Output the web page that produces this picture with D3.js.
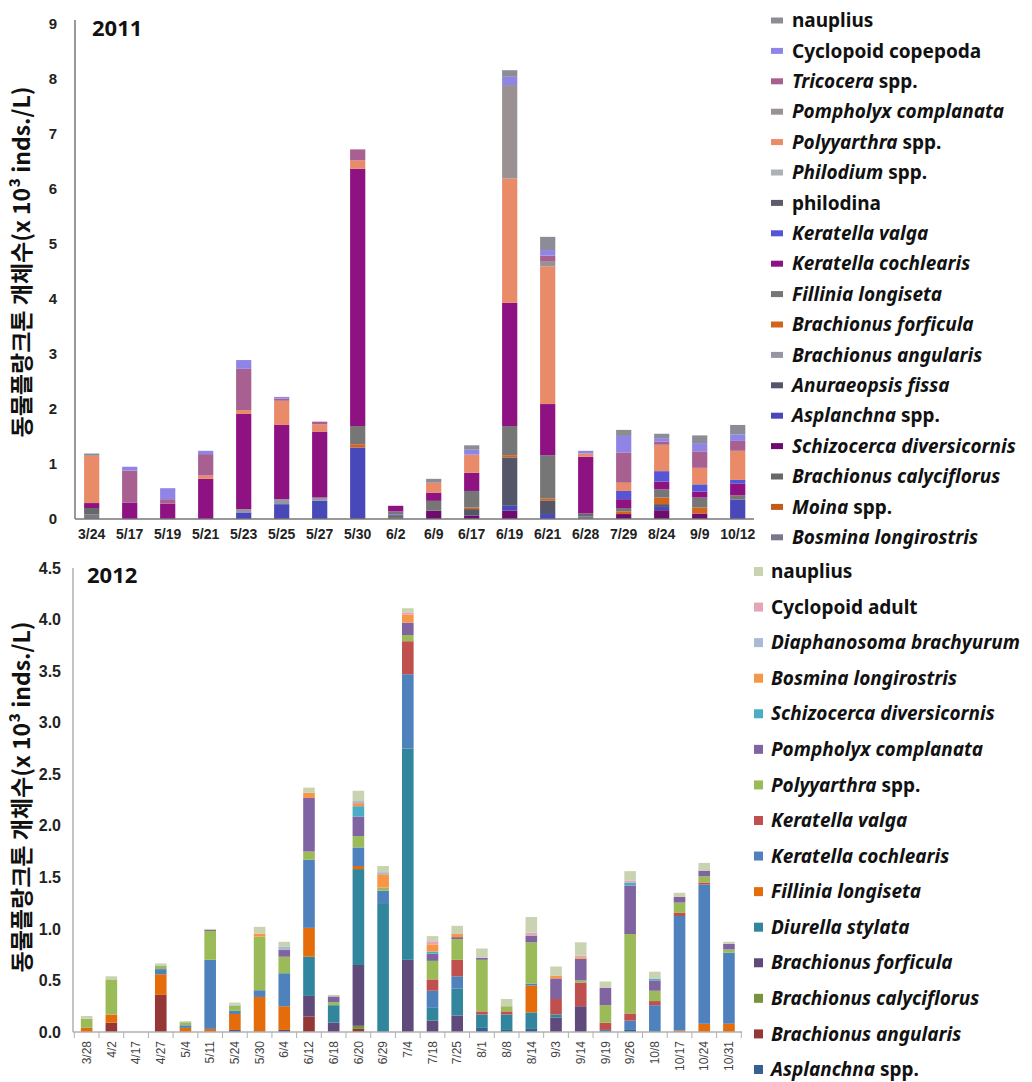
<!DOCTYPE html>
<meta charset="utf-8">
<svg width="1032" height="1082"></svg>
<script src="https://cdn.jsdelivr.net/npm/d3@7"></script>

<style>
body { margin: 0; background: #fff; }
svg { font-family: "Noto Sans", "Open Sans", sans-serif; }
.ytitle { font-family: "Noto Sans CJK KR", "Noto Sans", sans-serif; font-size: 23px; font-weight: bold; fill: #111; }
.year { font-size: 22px; font-weight: bold; fill: #111; }
.legend { font-size: 19px; font-weight: bold; fill: #111; }
</style>

<script>

// ---------- 2011 ----------
var dates2011 = ["3/24","5/17","5/19","5/21","5/23","5/25","5/27","5/30","6/2","6/9","6/17","6/19","6/21","6/28","7/29","8/24","9/9","10/12"];

// legend order (top to bottom); the stack is drawn in reverse
var species2011 = ["nauplius","Cyclopoid copepoda","Tricocera spp.","Pompholyx complanata","Polyyarthra spp.","Philodium spp.","philodina","Keratella valga","Keratella cochlearis","Fillinia longiseta","Brachionus forficula","Brachionus angularis","Anuraeopsis fissa","Asplanchna spp.","Schizocerca diversicornis","Brachionus calyciflorus","Moina spp.","Bosmina longirostris"];
var colors2011 = ["#8c8c96","#8f85e6","#a86090","#9a9292","#e98a68","#aeb0b8","#5c5c6a","#5555d5","#8e1282","#767676","#d2641e","#9696a2","#55556a","#4848b8","#6e0c6e","#686868","#c25a18","#78788a"];

var nauplius11    = [0.04,0,0,0,0,0,0,0,0,0.07,0.08,0.12,0.24,0,0.11,0.08,0.14,0.17];
var cyclopoid11   = [0,0.07,0.2,0.06,0.16,0.03,0,0,0,0,0.09,0.15,0.1,0.05,0.3,0.06,0.15,0.12];
var tricocera11   = [0,0.58,0.08,0.39,0.75,0.04,0.05,0.2,0,0,0,0,0.1,0,0.55,0.06,0.3,0.18];
var pompholyx11   = [0,0,0,0,0,0,0,0,0,0,0,1.7,0.1,0,0,0,0,0];
var polyyarthra11 = [0.86,0,0,0.06,0.07,0.44,0.13,0.15,0,0.18,0.33,2.26,2.5,0.06,0.15,0.48,0.3,0.53];
var philodium11   = [0,0,0,0,0,0,0,0,0,0,0,0,0,0,0,0,0,0];
var philodina11   = [0,0,0,0,0,0,0,0,0,0,0,0,0,0,0,0,0,0];
var kValga11      = [0,0,0,0,0,0,0,0,0,0,0,0,0,0,0.15,0.19,0.13,0.07];
var kCoch11       = [0.09,0.3,0.28,0.73,1.73,1.35,1.2,4.68,0.1,0.15,0.33,2.24,0.93,1.03,0.16,0.14,0.11,0.21];
var fillinia11    = [0,0,0,0,0,0,0,0.33,0.06,0.18,0.3,0.53,0.79,0,0.06,0.15,0.18,0.08];
var bForficula11  = [0,0,0,0,0,0,0,0.06,0,0,0.03,0.04,0.04,0,0.05,0.12,0.11,0];
var bAngularis11  = [0,0,0,0,0.06,0.09,0.06,0,0,0,0,0,0,0,0,0,0,0];
var anuraeopsis11 = [0,0,0,0,0,0,0,0,0,0,0.12,0.88,0.24,0,0,0.05,0,0];
var asplanchna11  = [0,0,0,0,0.12,0.27,0.33,1.3,0.02,0,0,0.09,0.09,0,0,0.06,0,0.35];
var schizocerca11 = [0,0,0,0,0,0,0,0,0,0.15,0.06,0.15,0,0,0.09,0.16,0.1,0];
var bCalyc11      = [0.12,0,0,0,0,0,0,0,0.04,0,0,0,0,0.05,0,0,0,0];
var moina11       = [0,0,0,0,0,0,0,0,0,0,0,0,0,0,0,0,0,0];
var bosmina11     = [0.08,0,0,0,0,0,0,0,0.02,0,0,0,0,0.05,0,0,0,0];

var values2011 = [nauplius11,cyclopoid11,tricocera11,pompholyx11,polyyarthra11,philodium11,philodina11,kValga11,kCoch11,fillinia11,bForficula11,bAngularis11,anuraeopsis11,asplanchna11,schizocerca11,bCalyc11,moina11,bosmina11];
var yTicks2011 = [0,1,2,3,4,5,6,7,8,9];

// ---------- 2012 ----------
var dates2012 = ["3/28","4/2","4/17","4/27","5/4","5/11","5/24","5/30","6/4","6/12","6/18","6/20","6/29","7/4","7/18","7/25","8/1","8/8","8/14","9/3","9/14","9/19","9/26","10/8","10/17","10/24","10/31"];

var species2012 = ["nauplius","Cyclopoid adult","Diaphanosoma brachyurum","Bosmina longirostris","Schizocerca diversicornis","Pompholyx complanata","Polyyarthra spp.","Keratella valga","Keratella cochlearis","Fillinia longiseta","Diurella stylata","Brachionus forficula","Brachionus calyciflorus","Brachionus angularis","Asplanchna spp."];
var colors2012 = ["#c9d3b2","#e3a6b4","#a9b9d6","#f79646","#4bacc6","#8064a2","#9bbb59","#c0504d","#4f81bd","#e46c0a","#31859c","#604a7b","#77933c","#953735","#376092"];

var nauplius12    = [0.025,0.03,0,0.02,0.01,0.01,0.02,0.065,0.05,0.05,0.015,0.1,0.06,0.04,0.05,0.08,0.09,0.07,0.15,0.09,0.13,0.06,0.09,0.07,0.04,0.075,0.02];
var cyclopoid12   = [0,0,0,0,0,0,0,0,0,0,0,0,0,0.02,0.03,0,0,0,0.03,0,0.015,0,0.02,0,0,0,0];
var diaphano12    = [0,0,0,0,0,0,0.01,0,0.03,0,0,0.02,0.02,0,0,0,0,0,0,0,0,0,0,0,0,0,0];
var bosmina12     = [0,0,0,0,0,0,0,0.03,0,0.05,0,0.03,0.13,0.08,0.07,0.03,0,0,0,0.025,0.015,0,0,0,0,0,0];
var schizocerca12 = [0,0,0,0,0,0,0,0,0,0,0,0.1,0,0,0.02,0,0,0,0,0,0,0,0.03,0.015,0,0,0];
var pompholyx12   = [0,0,0,0,0,0.01,0,0,0.065,0.52,0.055,0.19,0,0.12,0.07,0.02,0.02,0,0.065,0.2,0.21,0.17,0.47,0.1,0.055,0.055,0.055];
var polyyarthra12 = [0.09,0.34,0,0.035,0.03,0.28,0.05,0.52,0.16,0.08,0.03,0.11,0.03,0.06,0.18,0.2,0.5,0.05,0.4,0,0.02,0.17,0.77,0.1,0.1,0.06,0.03];
var kValga12      = [0,0,0,0,0,0,0,0,0,0,0,0,0,0.32,0.11,0.16,0.03,0.03,0,0.15,0.23,0.07,0.07,0.04,0.03,0.02,0];
var kCoch12       = [0,0,0,0.05,0.025,0.67,0.03,0.065,0.32,0.66,0,0.18,0.12,0.72,0.16,0.12,0,0,0.02,0,0,0.02,0.09,0.25,1.11,1.35,0.69];
var fillinia12    = [0.04,0.08,0,0.2,0.04,0.03,0.155,0.34,0.23,0.28,0,0.03,0,0,0,0,0,0,0.26,0,0,0,0,0,0.015,0.08,0.08];
var diurella12    = [0,0,0,0,0,0,0,0,0,0.38,0.17,0.93,1.25,2.05,0.13,0.26,0.13,0.15,0.16,0.03,0,0,0,0.01,0,0,0];
var bForficula12  = [0,0,0,0,0,0,0.01,0,0.02,0.2,0.09,0.59,0,0.7,0.11,0.16,0,0,0,0.14,0.25,0,0,0,0,0,0];
var bCalyc12      = [0,0,0,0,0,0,0,0,0,0,0,0.03,0,0,0,0,0,0,0,0,0,0,0,0,0,0,0];
var bAngularis12  = [0,0.09,0,0.36,0,0,0,0,0,0.15,0,0.03,0,0,0,0,0,0,0,0,0,0,0,0,0,0,0];
var asplanchna12  = [0,0,0,0,0,0,0.01,0,0,0,0,0,0,0,0,0,0.04,0.02,0.03,0,0,0,0.02,0,0,0,0];

var values2012 = [nauplius12,cyclopoid12,diaphano12,bosmina12,schizocerca12,pompholyx12,polyyarthra12,kValga12,kCoch12,fillinia12,diurella12,bForficula12,bCalyc12,bAngularis12,asplanchna12];
var yTicks2012 = [0,0.5,1,1.5,2,2.5,3,3.5,4,4.5];

var plainNames = ["nauplius","Cyclopoid copepoda","Cyclopoid adult","philodina"];
var yTitle = "동물플랑크톤 개체수(x 10³ inds./L)";

var svg = d3.select("svg");

function buildRows(dates, species, values) {
  return dates.map(function(d, i) {
    var row = {date: d};
    species.forEach(function(s, k) { row[s] = values[k][i]; });
    return row;
  });
}

function legendText(sel, name) {
  var t = sel.append("text").attr("class", "legend").attr("dy", "0.35em");
  if (plainNames.indexOf(name) >= 0) {
    t.text(name);
  } else if (/ spp\.$/.test(name)) {
    t.append("tspan").style("font-style", "italic").text(name.replace(/ spp\.$/, ""));
    t.append("tspan").text(" spp.");
  } else {
    t.style("font-style", "italic").text(name);
  }
  return t;
}

// ===== 2011 chart =====
(function() {
  var rows = buildRows(dates2011, species2011, values2011);
  var keys = species2011.slice().reverse();
  var color = d3.scaleOrdinal().domain(species2011).range(colors2011);

  var x = d3.scaleBand().domain(dates2011).range([72.7, 756.7]).paddingInner(0.6).paddingOuter(0.3);
  var y = d3.scaleLinear().domain([0, 9]).range([519, 24]);

  var g = svg.append("g");

  g.selectAll(".layer")
    .data(d3.stack().keys(keys)(rows))
    .enter().append("g")
      .attr("fill", function(d) { return color(d.key); })
    .selectAll("rect")
    .data(function(d) { return d; })
    .enter().append("rect")
      .attr("x", function(d) { return x(d.data.date); })
      .attr("width", x.bandwidth())
      .attr("y", function(d) { return y(d[1]); })
      .attr("height", function(d) { return y(d[0]) - y(d[1]); });

  var ya = g.append("g")
      .attr("transform", "translate(75,0)")
      .call(d3.axisLeft(y).tickValues(yTicks2011).tickSize(0).tickPadding(18).tickFormat(d3.format("d")));
  ya.select(".domain").attr("stroke", "#777").attr("stroke-width", 1.5).attr("d", "M0,20V519");
  ya.selectAll("text").style("font-size", "15px").style("font-weight", "bold").attr("fill", "#222");

  var xa = g.append("g")
      .attr("transform", "translate(0,519)")
      .call(d3.axisBottom(x).tickSize(0).tickPadding(10));
  xa.select(".domain").attr("stroke", "#777").attr("stroke-width", 1.5).attr("d", "M75,0H754");
  xa.selectAll("text").style("font-size", "14px").style("font-weight", "bold").attr("fill", "#222");

  g.append("text").attr("class", "year").attr("x", 92).attr("y", 36).text("2011");

  g.append("text").attr("class", "ytitle")
      .attr("transform", "translate(30,262) rotate(-90)")
      .attr("text-anchor", "middle")
      .text(yTitle);

  var lg = g.selectAll(".leg").data(species2011).enter().append("g")
      .attr("transform", function(d, i) { return "translate(771," + (20.5 + i * 30.4) + ")"; });
  lg.append("rect").attr("x", 0).attr("y", -3).attr("width", 12).attr("height", 6)
      .attr("fill", function(d) { return color(d); });
  lg.each(function(d) { legendText(d3.select(this), d).attr("x", 21); });
})();

// ===== 2012 chart =====
(function() {
  var rows = buildRows(dates2012, species2012, values2012);
  var keys = species2012.slice().reverse();
  var color = d3.scaleOrdinal().domain(species2012).range(colors2012);

  var x = d3.scaleBand().domain(dates2012).range([74.3, 741.3]).paddingInner(0.53).paddingOuter(0.265);
  var y = d3.scaleLinear().domain([0, 4.5]).range([1032, 568]);

  var g = svg.append("g");

  g.selectAll(".layer")
    .data(d3.stack().keys(keys)(rows))
    .enter().append("g")
      .attr("fill", function(d) { return color(d.key); })
    .selectAll("rect")
    .data(function(d) { return d; })
    .enter().append("rect")
      .attr("x", function(d) { return x(d.data.date); })
      .attr("width", x.bandwidth())
      .attr("y", function(d) { return y(d[1]); })
      .attr("height", function(d) { return y(d[0]) - y(d[1]); });

  var ya = g.append("g")
      .attr("transform", "translate(73,0)")
      .call(d3.axisLeft(y).tickValues(yTicks2012).tickSize(0).tickPadding(12).tickFormat(d3.format(".1f")));
  ya.select(".domain").attr("stroke", "#b0b0b0").attr("stroke-width", 1.5).attr("d", "M0,568V1032");
  ya.selectAll("text").style("font-size", "16px").style("font-weight", "bold").attr("fill", "#222");

  var xa = g.append("g")
      .attr("transform", "translate(0,1032)")
      .call(d3.axisBottom(x).tickSize(0));
  xa.select(".domain").attr("stroke", "#b0b0b0").attr("stroke-width", 1.5).attr("d", "M73,0H742");
  xa.selectAll("text")
      .attr("transform", "rotate(-90)")
      .attr("x", -9).attr("y", 0).attr("dy", "0.35em")
      .attr("text-anchor", "end")
      .style("font-size", "12px").attr("fill", "#444");

  // separators between categories
  var edges = dates2012.map(function(d) { return x(d) + x.bandwidth() / 2 - x.step() / 2; });
  edges.push(x(dates2012[dates2012.length - 1]) + x.bandwidth() / 2 + x.step() / 2);
  g.selectAll(".sep").data(edges).enter().append("line")
      .attr("x1", function(d) { return d; }).attr("x2", function(d) { return d; })
      .attr("y1", 1032).attr("y2", 1038)
      .attr("stroke", "#b0b0b0").attr("stroke-width", 1);

  g.append("text").attr("class", "year").attr("x", 87).attr("y", 583).text("2012");

  g.append("text").attr("class", "ytitle")
      .attr("transform", "translate(30,797) rotate(-90)")
      .attr("text-anchor", "middle")
      .text(yTitle);

  var lg = g.selectAll(".leg").data(species2012).enter().append("g")
      .attr("transform", function(d, i) { return "translate(754," + (571.5 + i * 35.57) + ")"; });
  lg.append("rect").attr("x", 0).attr("y", -4.5).attr("width", 9).attr("height", 9)
      .attr("fill", function(d) { return color(d); });
  lg.each(function(d) { legendText(d3.select(this), d).attr("x", 17); });
})();

</script>
